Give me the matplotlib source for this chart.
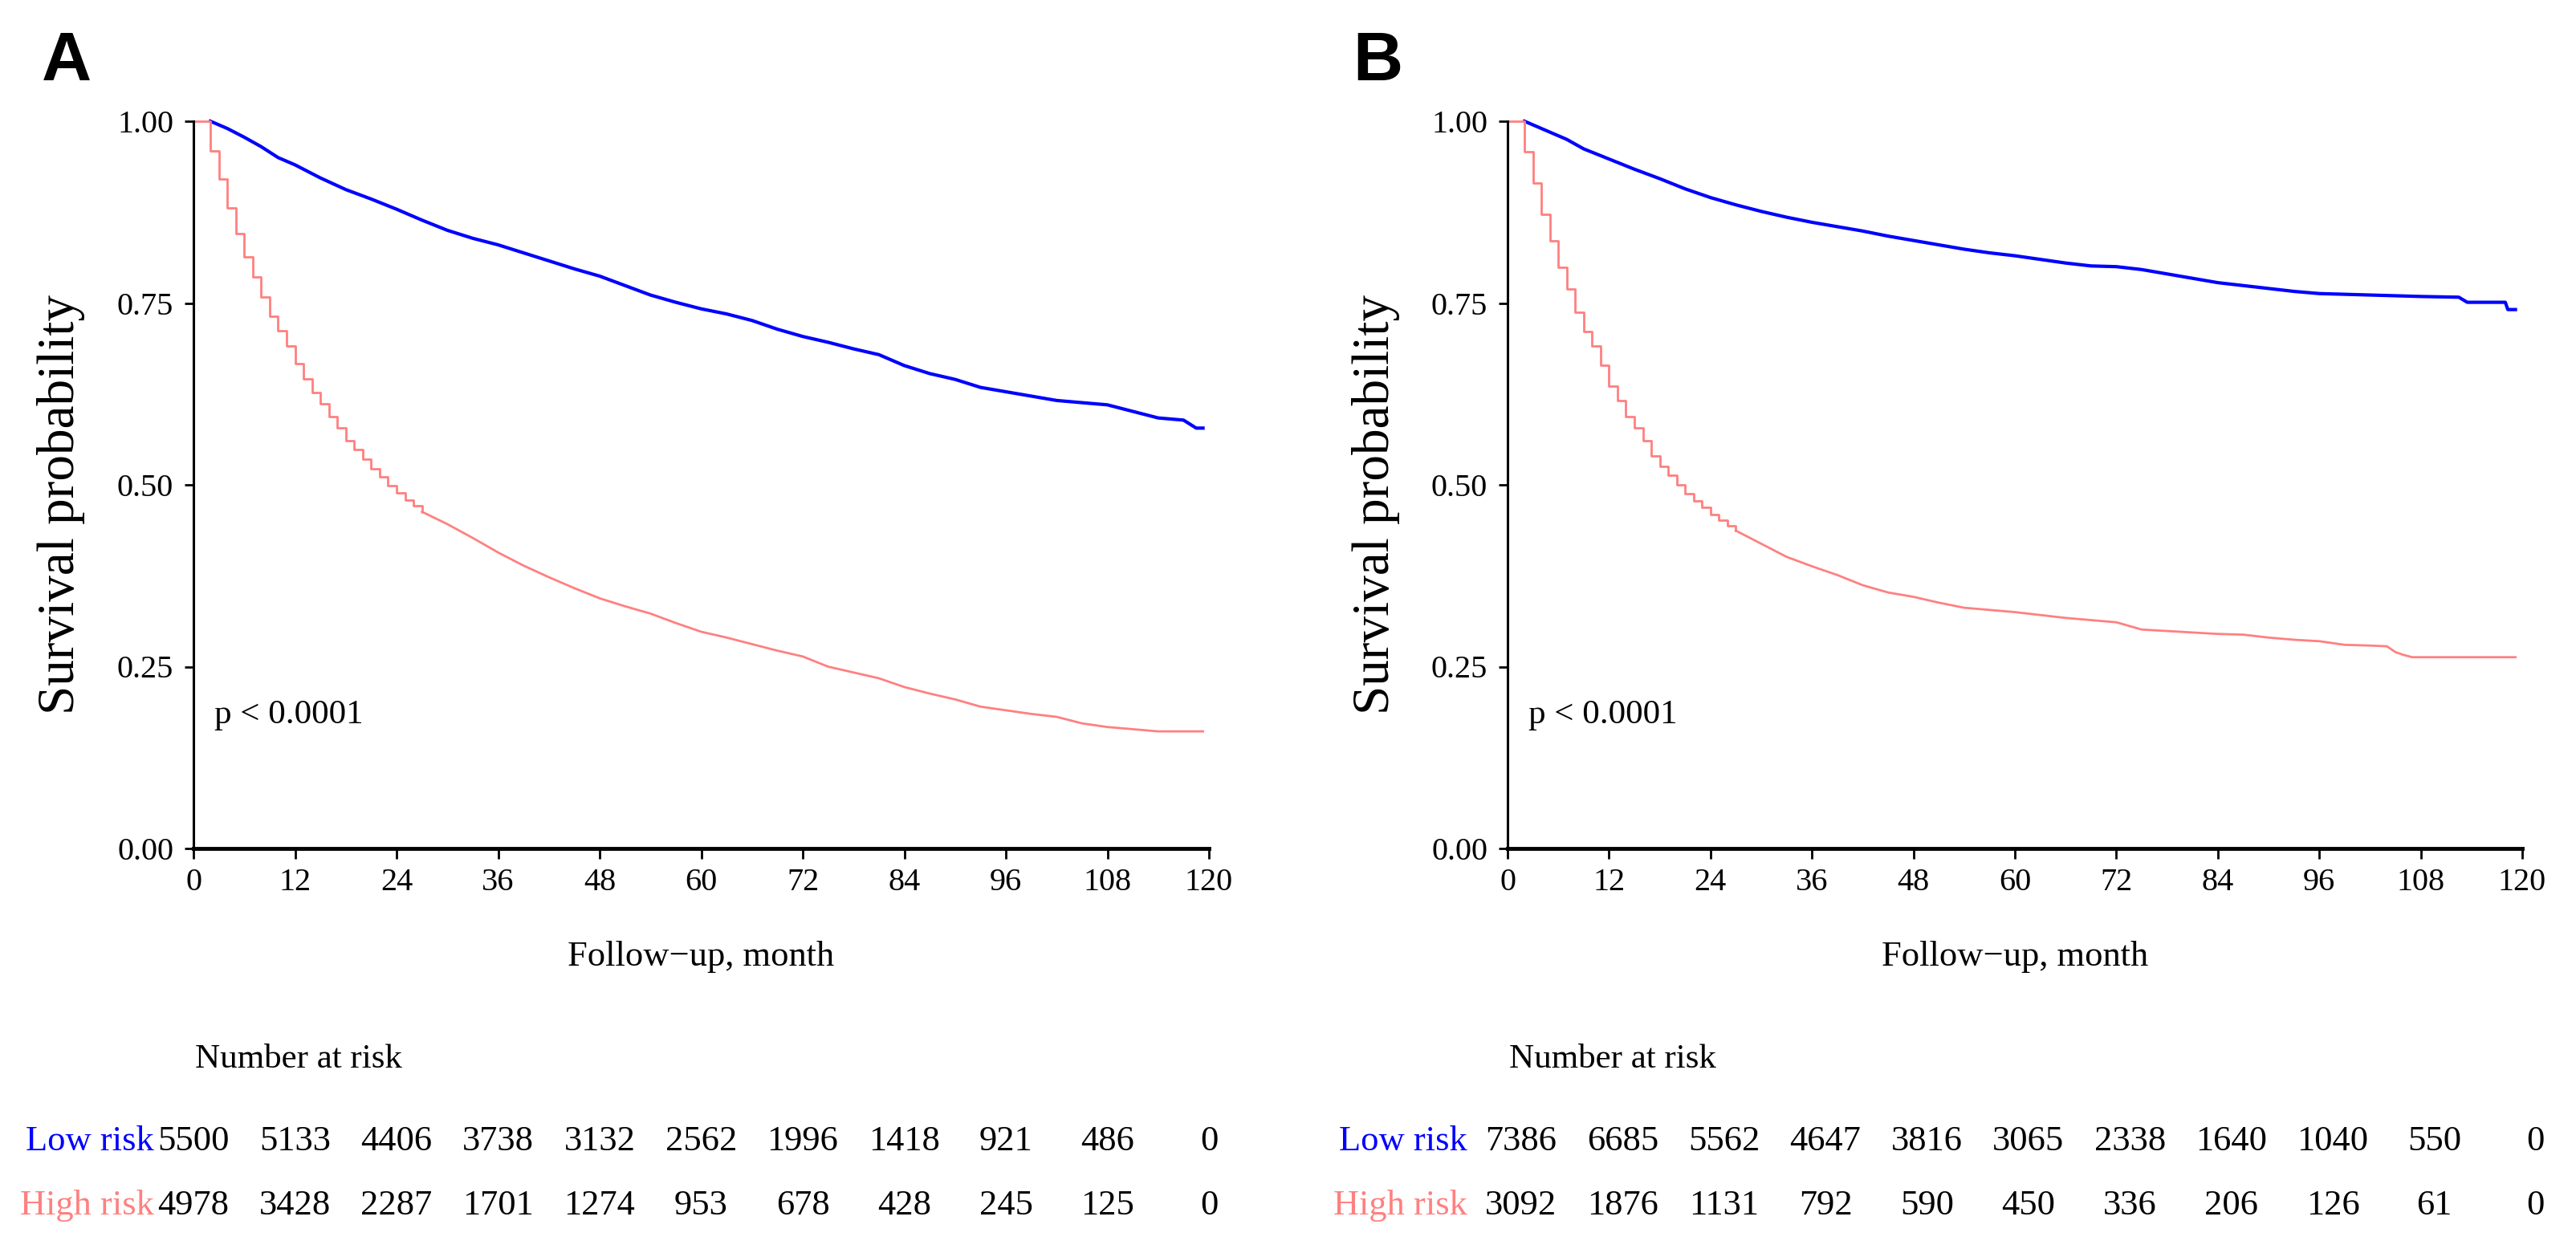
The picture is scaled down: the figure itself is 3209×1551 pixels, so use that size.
import matplotlib
matplotlib.use("Agg")
import matplotlib.pyplot as plt
import matplotlib.transforms as mtransforms

plt.rcParams['font.family'] = ['Liberation Serif', 'DejaVu Serif']

# ---- data ----
months = [0, 12, 24, 36, 48, 60, 72, 84, 96, 108, 120]

# Panel A
a_low_t = [2, 4, 6, 8, 10, 12, 15, 18, 21, 24, 27, 30, 33, 36, 39, 42, 45, 48, 51, 54,
           57, 60, 63, 66, 69, 72, 75, 78, 81, 84, 87, 90, 93, 96, 99, 102, 105, 108,
           111, 114, 117, 118.5, 119.3]
a_low_s = [1.0, 0.990, 0.978, 0.965, 0.950, 0.940, 0.922, 0.906, 0.893, 0.879, 0.864,
           0.850, 0.839, 0.830, 0.819, 0.808, 0.797, 0.787, 0.774, 0.761, 0.751, 0.742,
           0.735, 0.726, 0.714, 0.704, 0.696, 0.687, 0.679, 0.664, 0.653, 0.645, 0.634,
           0.628, 0.622, 0.616, 0.613, 0.610, 0.601, 0.592, 0.589, 0.578, 0.578]
a_high_t = [0, 2, 3, 4, 5, 6, 7, 8, 9, 10, 11, 12, 13, 14, 15, 16, 17, 18, 19, 20, 21,
            22, 23, 24, 25, 26, 27, 30, 33, 36, 39, 42, 45, 48, 51, 54, 57, 60, 63, 66,
            69, 72, 75, 78, 81, 84, 87, 90, 93, 96, 99, 102, 105, 108, 111, 114, 119.3]
a_high_s = [1.0, 0.959, 0.920, 0.881, 0.846, 0.814, 0.786, 0.758, 0.732, 0.712, 0.691,
            0.667, 0.646, 0.627, 0.611, 0.594, 0.578, 0.561, 0.549, 0.535, 0.522, 0.511,
            0.499, 0.489, 0.479, 0.471, 0.463, 0.446, 0.427, 0.407, 0.389, 0.373, 0.358,
            0.344, 0.333, 0.323, 0.310, 0.298, 0.290, 0.281, 0.272, 0.264, 0.250, 0.242,
            0.234, 0.222, 0.213, 0.205, 0.195, 0.190, 0.185, 0.181, 0.172, 0.167, 0.164,
            0.161, 0.161]
a_low_risk = [5500, 5133, 4406, 3738, 3132, 2562, 1996, 1418, 921, 486, 0]
a_high_risk = [4978, 3428, 2287, 1701, 1274, 953, 678, 428, 245, 125, 0]

# Panel B
b_low_t = [2, 4, 7, 9, 12, 15, 18, 21, 24, 27, 30, 33, 36, 39, 42, 45, 48, 51, 54, 57,
           60, 63, 66, 69, 72, 75, 78, 81, 84, 87, 90, 93, 96, 99, 102, 105, 108, 112.5,
           113.5, 118, 118.3, 119.2]
b_low_s = [1.0, 0.990, 0.975, 0.962, 0.948, 0.934, 0.921, 0.907, 0.895, 0.885, 0.876,
           0.868, 0.861, 0.855, 0.849, 0.842, 0.836, 0.830, 0.824, 0.819, 0.815, 0.810,
           0.805, 0.801, 0.800, 0.796, 0.790, 0.784, 0.778, 0.774, 0.770, 0.766, 0.763,
           0.762, 0.761, 0.760, 0.759, 0.758, 0.751, 0.751, 0.741, 0.741]
b_high_t = [0, 2, 3, 4, 5, 6, 7, 8, 9, 10, 11, 12, 13, 14, 15, 16, 17, 18, 19, 20, 21,
            22, 23, 24, 25, 26, 27, 30, 33, 36, 39, 42, 45, 48, 51, 54, 57, 60, 63, 66,
            69, 72, 75, 78, 81, 84, 87, 90, 93, 96, 99, 102, 104, 105, 106, 107, 119.2]
b_high_s = [1.0, 0.958, 0.915, 0.872, 0.836, 0.799, 0.769, 0.737, 0.711, 0.691, 0.665,
            0.636, 0.616, 0.594, 0.578, 0.561, 0.540, 0.525, 0.513, 0.500, 0.488, 0.478,
            0.469, 0.459, 0.451, 0.444, 0.437, 0.419, 0.401, 0.388, 0.376, 0.362, 0.352,
            0.346, 0.338, 0.331, 0.328, 0.325, 0.321, 0.317, 0.314, 0.311, 0.301, 0.299,
            0.297, 0.295, 0.294, 0.290, 0.287, 0.285, 0.280, 0.279, 0.278, 0.270, 0.266,
            0.263, 0.263]
b_low_risk = [7386, 6685, 5562, 4647, 3816, 3065, 2338, 1640, 1040, 550, 0]
b_high_risk = [3092, 1876, 1131, 792, 590, 450, 336, 206, 126, 61, 0]

LOW_COL = '#0000FF'
HIGH_COL = '#FF8080'
STEP_END = 27   # monthly steps are drawn up to here, the rest is a plain line

W, H = 3209, 1551
fig = plt.figure(figsize=(W / 100, H / 100), dpi=100)


def fx(x):
    return x / W


def fy(y):
    return 1 - y / H


def panel(left, width, letter, letter_x, ylab_x, tbl_label_x, tbl_shift,
          low_t, low_s, high_t, high_s, low_risk, high_risk):
    ax = fig.add_axes([fx(left), fy(1057), width / W, 906 / H])
    ax.plot(low_t, low_s, color=LOW_COL, lw=3.0, clip_on=False)
    k = high_t.index(STEP_END)
    ax.plot(high_t[:k + 1], high_s[:k + 1], color=HIGH_COL, lw=2.0,
            drawstyle='steps-post', clip_on=False)
    ax.plot(high_t[k:], high_s[k:], color=HIGH_COL, lw=2.0, clip_on=False)
    ax.set_xlim(0, 120)
    ax.set_ylim(0, 1)
    ax.set_xticks(months)
    ax.set_yticks([0, 0.25, 0.5, 0.75, 1.0])
    ax.set_yticklabels(['0.00', '0.25', '0.50', '0.75', '1.00'])
    for s in ['top', 'right']:
        ax.spines[s].set_visible(False)
    ax.spines['left'].set_linewidth(2.2)
    ax.spines['bottom'].set_linewidth(3.5)
    ax.tick_params(axis='x', direction='out', length=9, width=2.0, labelsize=29, pad=8)
    ax.tick_params(axis='y', direction='out', length=8, width=2.0, labelsize=29, pad=10)
    ax.text(2.5, 0.172, 'p < 0.0001', fontsize=31, va='baseline')

    # panel letter and labels
    fig.text(fx(letter_x), fy(100), letter, fontsize=62, fontweight='bold',
             family='Liberation Sans', ha='center', va='baseline')
    fig.text(fx(ylab_x), fy(628), 'Survival probability', fontsize=47,
             rotation=90, ha='center', va='center')
    fig.text(fx(left + width / 2), fy(1203), 'Follow\u2212up, month', fontsize=32,
             ha='center', va='baseline')

    # number at risk table
    fig.text(fx(left + 2), fy(1330), 'Number at risk', fontsize=31, va='baseline')
    fig.text(fx(tbl_label_x), fy(1433), 'Low risk', fontsize=32, color=LOW_COL,
             ha='right', va='baseline')
    fig.text(fx(tbl_label_x), fy(1513), 'High risk', fontsize=32, color=HIGH_COL,
             ha='right', va='baseline')
    trans = mtransforms.blended_transform_factory(ax.transData, fig.transFigure)
    for m, lo, hi in zip(months, low_risk, high_risk):
        ax.text(m + tbl_shift, fy(1433), str(lo), fontsize=32, ha='center',
                va='baseline', transform=trans, clip_on=False)
        ax.text(m + tbl_shift, fy(1513), str(hi), fontsize=32, ha='center',
                va='baseline', transform=trans, clip_on=False)
    return ax


panel(241, 1265, 'A', 83, 76, 192, 0.0,
      a_low_t, a_low_s, a_high_t, a_high_s, a_low_risk, a_high_risk)
panel(1878, 1264, 'B', 1716, 1714, 1828, 1.6,
      b_low_t, b_low_s, b_high_t, b_high_s, b_low_risk, b_high_risk)

fig.savefig('out.png', dpi=100)
